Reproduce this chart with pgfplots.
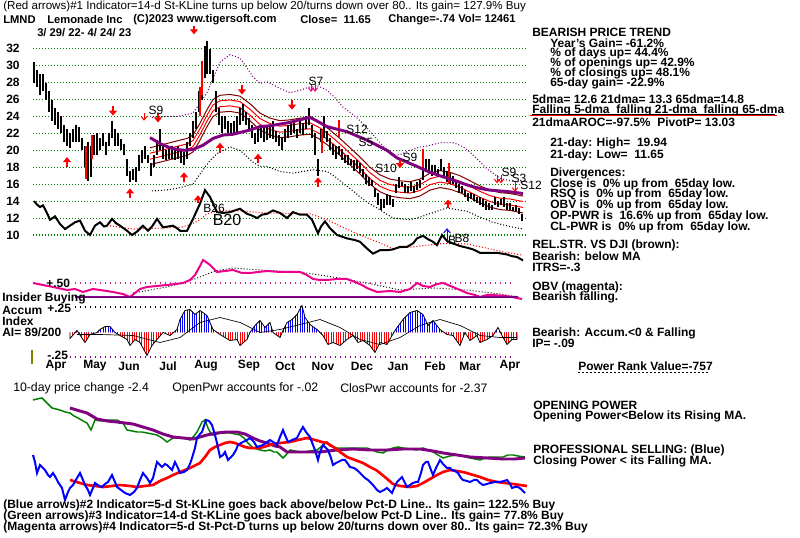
\documentclass[border=0pt]{standalone}
\usepackage{pgfplots}
\pgfplotsset{compat=1.18}
\usepackage{pgfplotstable}
\usetikzlibrary{patterns.meta,arrows.meta}
\usepackage{fontspec}
\setmainfont{Liberation Sans}
\definecolor{tsgreen}{RGB}{0,128,0}
\definecolor{maroon}{RGB}{128,0,0}
\definecolor{tspurple}{RGB}{128,0,128}
\definecolor{tsolive}{RGB}{128,128,0}
\newcommand\fb{\fontsize{9}{9}\selectfont\bfseries}
\newcommand\fr{\fontsize{8.7}{8.7}\selectfont}
\newcommand\frr{\fontsize{9.2}{9.2}\selectfont}
\newcommand\fbs{\fontsize{8.4}{8.4}\selectfont\bfseries}

\pgfplotstableread{
x lo hi
34 28.0 30.4
37 27.5 29.5
40 26.5 29.0
43 27.0 29.0
46 26.0 28.0
49 24.5 27.0
52 23.5 26.0
55 23.0 25.0
58 22.5 24.5
61 22.0 24.0
64 21.0 23.0
67 20.5 22.5
70 20.3 22.0
73 21.0 22.5
76 21.0 23.0
79 21.0 22.8
82 20.0 21.5
85 18.0 20.5
88 16.4 21.0
91 16.8 20.5
94 19.5 21.8
97 19.5 22.0
100 20.0 21.5
103 20.5 22.0
106 19.5 21.0
109 20.5 22.0
112 21.5 23.5
115 20.5 22.5
118 20.5 22.0
121 20.0 21.3
124 19.5 20.8
127 17.0 19.0
130 16.3 17.5
133 16.5 17.8
136 16.2 18.0
139 17.5 19.5
142 18.5 20.0
145 19.0 20.5
148 18.5 19.5
151 17.0 18.5
154 18.0 19.5
157 19.5 21.2
160 20.0 22.5
163 19.0 20.8
166 18.8 20.0
169 19.0 20.5
172 19.0 20.5
175 18.8 20.3
178 19.0 20.5
181 18.5 20.0
184 18.3 19.8
187 19.0 21.0
190 20.5 22.0
193 21.5 23.5
196 22.5 24.5
199 24.5 27.0
202 26.0 30.0
205 28.5 32.3
207 29.0 32.9
210 29.0 32.0
213 28.0 29.5
216 24.5 27.0
219 23.0 25.0
222 22.0 24.0
225 22.5 24.0
228 22.0 23.5
231 21.7 23.2
234 22.0 23.5
237 22.2 24.0
240 23.0 25.0
243 23.5 25.5
246 23.0 24.5
249 22.5 23.8
252 21.5 23.0
255 20.8 22.0
258 21.0 22.5
261 21.5 22.8
264 21.0 22.8
267 21.2 23.0
270 21.5 23.0
273 21.3 23.5
276 21.0 22.3
279 20.5 21.8
282 20.0 21.5
285 21.0 22.5
288 21.5 23.0
291 21.8 23.3
294 22.0 23.5
297 21.5 22.5
300 22.0 23.5
303 21.8 23.2
306 22.5 24.0
309 23.0 25.0
312 21.5 23.0
315 19.5 22.0
318 17.0 19.0
321 21.0 22.5
324 21.5 24.0
327 21.0 22.3
330 20.0 21.5
333 19.5 20.8
336 19.0 20.5
339 19.5 20.5
342 18.8 20.2
345 18.5 19.5
348 18.3 19.5
351 18.3 19.0
354 17.5 18.8
357 17.8 18.8
360 17.3 18.5
363 16.8 17.8
366 16.0 17.2
369 15.8 16.8
372 15.8 16.5
375 14.5 15.5
378 13.5 15.0
381 13.0 14.3
384 13.2 14.3
387 13.5 14.8
390 13.5 14.7
393 13.3 14.3
396 15.0 16.0
399 15.5 16.8
402 15.8 16.3
405 15.0 16.0
408 15.0 15.8
411 15.2 16.2
414 15.0 15.8
417 15.3 16.3
420 15.5 16.5
423 16.5 18.0
426 17.5 19.0
429 17.5 19.0
432 17.0 18.3
435 17.3 18.3
438 16.8 17.8
441 17.5 19.0
444 17.0 18.0
447 16.3 17.5
450 16.0 17.3
453 16.0 17.0
456 15.5 16.3
459 15.0 16.0
462 15.0 15.8
465 14.5 15.3
468 14.0 15.0
471 14.3 15.0
474 14.0 14.8
477 13.8 14.5
480 13.5 14.5
483 13.3 14.2
486 13.0 14.0
489 13.0 13.8
492 13.0 13.5
495 13.5 14.5
498 13.3 14.0
501 13.5 14.3
504 13.3 14.5
507 13.0 13.8
510 13.0 13.8
513 12.8 13.3
516 12.8 13.5
519 12.5 13.2
522 11.6 12.5
}\bars

\pgfplotstableread{
x lo hi
86 16.6 20.5
92 19.0 21.8
200 24.0 27.5
202 26.5 30.5
322 19.7 22.4
339 21.6 23.6
423 18.0 20.2
449 16.1 18.5
}\redbars

\pgfplotstableread{
x ub r1 r2 lb
150 20.3 19.65 18.95 18.3
160 20.6 19.95 19.25 18.6
170 20.9 20.25 19.55 18.9
180 21.2 20.55 19.85 19.2
187 21.4 20.75 20.05 19.4
193 21.8 21.15 20.45 19.8
200 23.2 22.55 21.85 21.2
207 24.8 24.15 23.45 22.8
213 26.0 25.35 24.65 24.0
220 26.5 25.85 25.15 24.5
230 26.6 25.95 25.25 24.6
240 26.4 25.75 25.05 24.4
250 25.5 24.85 24.15 23.5
260 24.4 23.75 23.05 22.4
270 23.8 23.15 22.45 21.8
280 23.5 22.85 22.15 21.5
290 23.6 22.95 22.25 21.6
300 23.8 23.15 22.45 21.8
310 23.9 23.25 22.55 21.9
320 23.3 22.65 21.95 21.3
330 22.4 21.75 21.05 20.4
340 21.4 20.75 20.05 19.4
350 20.3 19.65 18.95 18.3
360 19.2 18.55 17.85 17.2
370 18.0 17.35 16.65 16.0
380 17.1 16.45 15.75 15.1
390 16.6 15.95 15.25 14.6
400 16.4 15.75 15.05 14.4
410 16.3 15.65 14.95 14.3
420 16.6 15.95 15.25 14.6
430 17.3 16.65 15.95 15.3
440 17.6 16.95 16.25 15.6
450 17.4 16.75 16.05 15.4
460 17.0 16.35 15.65 15.0
470 16.4 15.75 15.05 14.4
480 15.8 15.15 14.45 13.8
490 15.3 14.65 13.95 13.3
500 15.0 14.35 13.65 13.0
510 14.9 14.25 13.55 12.9
523 14.6 13.95 13.25 12.6
}\bands

\pgfplotstableread{
x y
150 21.5
160 20.8
170 20.3
177 20.1
185 20.0
193 20.1
203 20.6
213 21.4
223 21.8
233 21.9
250 22.4
260 22.8
270 22.9
280 23.1
290 23.3
300 23.6
310 23.9
318 23.4
327 22.8
337 22.5
347 22.2
357 21.7
367 21.2
377 20.6
387 20.0
397 19.1
407 18.6
417 18.1
430 17.4
440 17.0
450 16.6
460 16.2
470 15.8
480 15.5
490 15.3
500 15.2
510 15.1
523 14.9
}\ma

\pgfplotstableread{
x y
152 23.9
165 24.0
177 24.0
193 24.4
207 26.8
220 30.4
230 31.3
240 30.9
253 28.7
260 27.9
267 28.1
280 27.3
290 26.8
300 27.1
310 27.5
318 27.6
327 27.1
335 26.2
343 25.1
352 24.3
360 23.5
368 22.5
377 21.3
385 20.3
393 19.4
400 19.5
410 20.0
420 20.4
427 20.5
440 20.9
453 20.9
460 20.6
467 20.1
477 19.0
487 17.8
500 16.7
510 16.4
523 16.2
}\upb

\pgfplotstableread{
x y
152 15.2
165 15.3
177 15.5
193 16.0
203 17.7
210 18.8
217 19.6
230 20.4
240 20.0
253 18.6
260 18.1
267 18.1
280 17.5
293 17.3
303 17.5
313 17.7
327 17.5
335 16.9
343 16.1
352 15.3
360 14.5
368 13.8
377 13.2
385 12.6
393 12.0
410 11.8
420 12.1
427 12.4
437 12.8
447 13.2
457 13.0
467 12.8
480 12.1
493 11.5
510 11.0
523 10.7
}\lowb

\pgfplotstableread{
x y
34 14.0
37 13.6
40 13.3
43 13.5
47 12.6
50 11.8
55 12.2
60 11.3
65 10.7
70 11.1
75 11.5
80 11.7
85 10.5
90 10.0
95 11.1
100 11.5
104 11.0
107 11.1
112 11.9
116 11.4
120 11.1
127 10.5
132 10.0
137 10.4
143 11.1
148 10.5
152 11.0
157 11.9
160 11.4
163 10.9
168 11.0
173 11.1
177 10.8
180 10.5
187 10.5
193 11.9
200 13.7
205 15.3
210 14.5
217 12.7
223 12.6
230 12.7
235 12.9
240 13.1
247 12.5
252 12.3
257 12.0
262 12.4
267 12.5
273 12.9
280 12.6
287 12.0
293 12.7
300 12.4
307 12.4
312 11.8
318 10.2
321 11.0
325 11.6
330 10.8
337 10.0
347 9.6
355 9.4
360 9.2
367 8.4
373 7.8
380 8.2
387 8.2
393 8.3
400 8.6
407 8.6
413 9.0
417 9.6
423 9.9
428 9.5
433 9.2
437 8.8
442 10.0
447 9.3
453 9.0
460 8.7
467 8.5
473 8.3
480 7.9
487 7.9
497 7.9
507 7.7
512 7.5
517 7.4
523 7.0
}\rs

\pgfplotstableread{
x y
110 11.1
133 10.7
157 10.8
180 10.9
190 11.2
200 11.8
207 12.5
220 12.9
233 12.9
267 12.6
310 12.5
327 11.8
343 10.9
360 10.0
377 9.2
393 8.4
413 8.6
443 9.0
467 8.95
500 8.1
523 7.6
}\rsma

\pgfplotstableread{
x y u v
67 18.0 0 1.2
130 14.4 0 1.1
184 16.3 0 1.1
198 13.8 0 0.9
220 19.7 0 1.2
258 18.5 0 1.1
318 15.7 0 1.1
448 13.2 0 1.0
}\uparrows

\pgfplotstableread{
x y u v
194 34.7 0 -1.0
113 25.2 0 -1.1
158 24.4 0 -1.1
242 27.7 0 -1.1
292 25.9 0 -1.1
400 18.9 0 -1.0
}\downarrows

\pgfplotstableread{
x y u v
144 24.4 0 -0.9
497 17.1 0 -1.0
501 17.1 0 -1.0
515 16.2 0 -1.1
}\thinarrows

\pgfplotstableread{
x y
33 283
43 285
53 287
67 290
75 289
83 292
93 289
100 290
113 292
123 294
130 297
140 289
147 287
157 286
167 285
175 284
183 283
190 280
195 275
200 266
203 260
206 262
210 265
217 272
225 271
233 270
242 273
250 273
258 272
267 271
280 272
290 272
300 272
307 275
313 279
320 280
327 280
337 279
347 279
355 282
362 285
367 288
377 292
390 291
400 292
410 289
417 283
423 286
430 287
437 284
443 283
448 285
453 287
460 290
467 293
475 295
480 297
487 295
493 295
505 296
512 297
517 298
522 299
}\obv

\pgfplotstableread{
x y
133 293
150 290
167 287
183 283
200 277
215 271
233 268
260 270
300 272
333 277
367 283
400 290
433 288
467 290
500 294
520 297
}\obvma

\pgfplotstableread{
x y
70 0
70 -0.06
77 0.02
83 -0.07
85 -0.10
90 -0.02
97 0
100 0.03
105 0.06
110 0.06
115 0
120 -0.03
127 -0.07
130 -0.13
135 -0.07
140 -0.10
147 -0.23
152 -0.13
157 -0.07
163 0
170 -0.03
177 0.03
180 0.13
185 0.22
190 0.23
195 0.18
200 0.22
207 0.17
213 0.03
220 -0.02
230 -0.08
237 -0.07
240 -0.13
247 -0.07
250 0
255 0.07
260 0.12
265 0.05
270 0.10
273 0
280 -0.05
283 0.02
287 0.10
292 0.13
297 0.18
302 0.27
305 0.15
310 0.08
317 0.03
323 -0.03
328 -0.12
333 -0.10
340 -0.13
347 -0.07
353 -0.03
358 -0.10
363 -0.08
370 -0.13
375 -0.20
380 -0.10
387 -0.12
392 -0.03
397 0.05
403 0.13
410 0.20
417 0.22
423 0.18
428 0.07
433 0.12
440 0.03
447 -0.02
453 -0.03
460 -0.13
465 0
470 -0.08
477 -0.03
480 -0.10
487 -0.07
493 -0.03
498 0.05
502 -0.03
507 -0.12
512 -0.07
517 -0.07
517 0
}\ai

\pgfplotstableread{
x y
77 -0.02
100 -0.02
133 -0.03
160 -0.10
180 -0.05
200 0.10
220 0.15
240 0.10
260 0
280 0.03
300 0.08
320 0.13
340 0.05
360 -0.07
380 -0.12
400 -0.05
420 0.07
440 0.13
460 0.07
480 -0.03
500 -0.05
517 -0.05
}\aima

\pgfplotstableread{
x y
33 400
37 399
42 398
47 403
52 408
56 409
60 410
65 412
70 413
74 416
78 418
83 421
87 423
91 430
95 420
101 421
107 420
112 420
117 420
123 423
127 430
132 431
137 432
142 432
147 433
152 434
157 435
162 438
167 442
173 438
178 438
183 438
187 439
190 440
194 436
197 432
200 426
202 422
205 420
208 428
210 432
213 435
217 434
220 433
225 433
230 433
235 434
240 435
244 438
247 442
250 445
253 448
257 449
260 450
265 451
270 450
274 452
277 452
280 455
283 458
286 455
290 450
295 451
300 452
303 452
310 451
317 450
322 446
327 442
330 446
337 448
345 448
353 448
360 448
367 448
372 450
377 452
383 453
388 450
393 448
398 447
403 448
410 449
417 450
423 448
428 450
433 452
438 455
443 458
450 456
457 455
463 456
470 458
475 459
480 460
485 458
490 457
497 457
503 457
508 455
513 455
518 456
525 457
}\opw

\pgfplotstableread{
x y
70 408
80 411
87 413
97 419
107 421
117 422
125 423
133 424
143 427
153 430
163 434
173 437
183 438
193 439
200 437
207 435
217 433
227 432
237 432
245 434
253 438
260 441
267 443
275 446
280 447
287 452
300 452
320 452
337 450
353 449
370 450
387 450
403 449
420 449
433 451
443 453
457 455
470 457
487 458
503 459
515 459
525 458
}\opwma

\pgfplotstableread{
x y
33 455
35 462
37 473
40 465
43 468
45 470
48 475
50 477
53 473
56 478
58 482
62 488
65 500
68 492
70 488
73 485
77 478
80 473
83 480
85 485
88 490
90 495
93 488
95 483
99 486
102 487
105 484
108 482
112 475
115 482
117 487
121 490
125 493
130 495
134 492
137 488
140 480
143 473
147 478
150 483
153 478
157 462
160 465
162 467
165 464
167 465
170 468
172 470
175 462
178 468
180 473
184 472
187 470
190 464
192 458
195 448
197 438
200 434
202 432
204 426
206 420
209 421
212 425
215 435
217 443
220 457
223 455
225 452
228 460
231 457
233 455
236 450
238 445
241 443
243 442
247 440
250 438
254 442
257 447
260 446
263 445
267 442
270 440
273 442
277 445
280 437
283 430
285 435
288 442
292 440
297 438
300 432
303 427
306 432
310 437
313 445
315 450
318 460
320 452
323 445
326 448
328 450
331 458
333 465
336 463
338 462
342 460
345 460
348 464
350 467
354 468
357 470
360 473
362 475
365 478
368 480
371 483
373 485
377 490
380 492
384 490
387 488
390 491
392 493
395 486
397 482
400 479
402 477
405 483
407 487
410 485
413 483
416 482
418 482
421 473
423 465
426 462
428 462
431 470
433 475
436 468
440 460
443 464
447 468
450 468
452 470
455 471
458 473
461 478
463 480
467 481
470 482
474 480
477 480
480 483
483 485
487 484
490 483
495 482
500 482
504 481
507 480
510 484
512 488
515 487
518 487
521 489
525 493
}\cpw

\pgfplotstableread{
x y
70 480
80 483
87 485
95 486
103 487
112 486
120 485
130 486
137 487
145 486
153 485
160 481
167 478
173 475
180 472
190 468
200 463
205 457
210 450
215 447
220 445
225 443
230 442
235 443
240 445
245 447
250 448
255 448
260 448
267 446
273 444
280 443
290 442
298 440
307 438
315 440
322 442
327 443
335 448
340 452
347 457
355 460
363 463
370 467
376 470
380 473
386 478
393 484
400 486
410 487
417 486
423 483
430 479
437 475
443 472
450 470
457 471
463 472
470 474
480 477
488 480
497 482
505 483
513 484
520 485
527 486
}\cpwma

\pgfplotsset{panel/.style={scale only axis, xmin=33, xmax=528, width=371.25pt,
  anchor=south west, axis line style={draw=none}, xtick=\empty, ytick=\empty,
  major tick length=0pt, clip=false}}

\begin{document}
\begin{tikzpicture}[x=0.75pt,y=0.75pt]
\fill[white] (0,0) rectangle (800,538);
\useasboundingbox (0,0) rectangle (800,538);

% ---------------- price panel (px 48.7..235 from top) ----------------
\begin{axis}[panel, at={(24.75pt,227.25pt)}, height=139.7pt, ymin=10, ymax=32,
  ytick={10,12,14,16,18,20,22,24,26,28,30,32},
  yticklabels={10,12,14,16,18,20,22,24,26,28,30,32},
  yticklabel style={font=\fb, xshift=-6.5pt},
  ymajorgrids, grid style={tsgreen, line width=0.8pt, dash pattern=on 0.75pt off 1.5pt}]
\addplot[maroon, line width=0.75pt] table[x=x,y=ub] {\bands};
\addplot[maroon, line width=0.75pt] table[x=x,y=lb] {\bands};
\addplot[red, line width=0.75pt] table[x=x,y=r1] {\bands};
\addplot[red, line width=0.75pt] table[x=x,y=r2] {\bands};
\addplot[tspurple, line width=0.8pt, dash pattern=on 0.75pt off 1.5pt] table {\upb};
\addplot[black, line width=0.8pt, dash pattern=on 0.75pt off 1.5pt] table {\lowb};
\addplot[draw=none, mark=none, error bars/.cd, y dir=minus, y explicit, error mark=none,
  error bar style={draw=black, line width=0.95pt}]
  table[x=x, y=hi, y error minus expr=\thisrow{hi}-\thisrow{lo}] {\bars};
\addplot[draw=none, mark=none, error bars/.cd, y dir=minus, y explicit, error mark=none,
  error bar style={draw=red, line width=0.95pt}]
  table[x=x, y=hi, y error minus expr=\thisrow{hi}-\thisrow{lo}] {\redbars};
\addplot[tspurple, line width=2.2pt] table {\ma};
\addplot[red, line width=0.8pt, dash pattern=on 0.75pt off 1.5pt] table {\rsma};
\addplot[black, line width=1.5pt] table {\rs};
\addplot[red, line width=2.2pt, -{Triangle[width=6pt,length=3.8pt]},
  quiver={u=\thisrow{u}, v=\thisrow{v}}] table {\uparrows};
\addplot[red, line width=2.2pt, -{Triangle[width=6pt,length=3.8pt]},
  quiver={u=\thisrow{u}, v=\thisrow{v}}] table {\downarrows};
\addplot[red, line width=0.75pt, -{Straight Barb[width=4pt,length=2.5pt]},
  quiver={u=\thisrow{u}, v=\thisrow{v}}] table {\thinarrows};
\addplot[magenta, line width=0.75pt, -{Straight Barb[width=4pt,length=2.5pt]},
  quiver={u=0, v=-0.9}] coordinates {(311,27.8) (315,27.8)};
\addplot[blue, line width=0.75pt, -{Straight Barb[width=5pt,length=3pt]},
  quiver={u=0, v=1.8}] coordinates {(447,9.0)};
\end{axis}

% ---------------- OBV panel (px 255..300) ----------------
\begin{axis}[panel, at={(24.75pt,178.5pt)}, height=33.75pt, ymin=255, ymax=300, y dir=reverse]
\addplot[black, line width=0.7pt, dash pattern=on 0.75pt off 1.5pt] table {\obvma};
\addplot[magenta, line width=1.5pt] table {\obv};
\end{axis}

% ---------------- Accumulation index (0 at px 332.5) ----------------
\begin{axis}[panel, at={(24.75pt,154.125pt)}, height=22.5pt, ymin=0, ymax=0.3, clip=true]
\addplot[draw=none, pattern={Lines[angle=90, distance=1.8pt, line width=0.7pt]}, pattern color=blue] table {\ai} \closedcycle;
\end{axis}
\begin{axis}[panel, at={(24.75pt,131.625pt)}, height=22.5pt, ymin=-0.3, ymax=0, clip=true]
\addplot[draw=none, pattern={Lines[angle=90, distance=1.8pt, line width=0.7pt]}, pattern color=red] table {\ai} \closedcycle;
\end{axis}
\begin{axis}[panel, at={(24.75pt,131.625pt)}, height=45pt, ymin=-0.3, ymax=0.3]
\addplot[black, line width=0.6pt] table {\ai};
\addplot[black, line width=0.5pt] table {\aima};
\end{axis}

% ---------------- power panel (px 395..505) ----------------
\begin{axis}[panel, at={(24.75pt,24.75pt)}, height=82.5pt, ymin=395, ymax=505, y dir=reverse]
\addplot[tsgreen, line width=1.1pt] table {\opw};
\addplot[tspurple, line width=2.2pt] table {\opwma};
\addplot[red, line width=2pt] table {\cpwma};
\addplot[blue, line width=1.5pt] table {\cpw};
\end{axis}

% ---------------- texts (pixel coordinates from top) ----------------
\begin{scope}[y=-0.75pt, yshift=403.5pt]
\draw[magenta!70!tspurple, line width=0.8pt, dash pattern=on 0.75pt off 3pt] (75,283) -- (515,283);
\draw[tspurple, line width=1pt] (75,297) -- (517,297);
\draw[black, line width=0.8pt, dash pattern=on 0.75pt off 3pt] (75,307) -- (515,307);
\draw[tspurple, line width=0.8pt, dash pattern=on 0.75pt off 3pt] (70,357) -- (515,357);
\draw[tsolive, line width=1pt] (32,350) -- (32,364);

\node[anchor=west, inner sep=0, font=\fr] at (3,7) {(Red arrows)\#1 Indicator=14-d St-KLine turns up below 20/turns down over 80.. Its gain= 127.9\% Buy};
\node[anchor=west, inner sep=0, font=\fbs] at (3,20) {LMND};
\node[anchor=west, inner sep=0, font=\fbs] at (47,20) {Lemonade Inc};
\node[anchor=west, inner sep=0, font=\fbs] at (133,20) {(C)2023 www.tigersoft.com};
\node[anchor=west, inner sep=0, font=\fbs] at (300,20) {Close=\ \ 11.65};
\node[anchor=west, inner sep=0, font=\fbs] at (388,20) {Change=-.74 Vol= 12461};
\node[anchor=west, inner sep=0, font=\fbs] at (37,33) {3/ 29/ 22- 4/ 24/ 23};

\node[font=\fontsize{9}{9}\selectfont] at (156,110) {S9};
\node[font=\fontsize{9}{9}\selectfont] at (316,81) {S7};
\node[font=\fontsize{9}{9}\selectfont] at (357,129) {S12};
\node[font=\fontsize{9}{9}\selectfont] at (366,142) {S5};
\node[font=\fontsize{9}{9}\selectfont] at (386,168) {S10};
\node[font=\fontsize{9}{9}\selectfont] at (410,157) {S9};
\node[font=\fontsize{9}{9}\selectfont] at (509,172) {S9};
\node[font=\fontsize{9}{9}\selectfont] at (519,178) {S3};
\node[font=\fontsize{9}{9}\selectfont] at (531,185) {S12};
\node[font=\fontsize{9}{9}\selectfont] at (214,208) {B26};
\node[font=\fontsize{12}{12}\selectfont] at (227,220) {B20};
\node[font=\fontsize{9}{9}\selectfont] at (452,240) {B};
\node[font=\fontsize{9}{9}\selectfont] at (462,238) {B8};

\node[anchor=west, inner sep=0, font=\fb] at (532,32) {BEARISH PRICE TREND};
\node[anchor=west, inner sep=0, font=\fb] at (550,43) {Year's Gain= -61.2\%};
\node[anchor=west, inner sep=0, font=\fb] at (550,53) {\% of days up= 44.4\%};
\node[anchor=west, inner sep=0, font=\fb] at (550,63) {\% of openings up= 42.9\%};
\node[anchor=west, inner sep=0, font=\fb] at (550,73) {\% of closings up= 48.1\%};
\node[anchor=west, inner sep=0, font=\fb] at (550,83) {65-day gain= -22.9\%};
\node[anchor=west, inner sep=0, font=\fb] at (532,99) {5dma= 12.6 21dma= 13.3 65dma=14.8};
\node[anchor=west, inner sep=0, font=\fb] at (532,110) {Falling 5-dma\ \ falling 21-dma\ \ falling 65-dma};
\draw[black, line width=0.75pt] (532,114.5) -- (775,114.5);
\draw[red, line width=0.75pt] (530,116) -- (777,116);
\node[anchor=west, inner sep=0, font=\fb] at (532,122) {21dmaAROC=-97.5\%\ \ PivotP= 13.03};
\node[anchor=west, inner sep=0, font=\fb] at (550,143) {21-day: High=\ \ 19.94};
\node[anchor=west, inner sep=0, font=\fb] at (550,155) {21-day: Low=\ \ 11.65};
\node[anchor=west, inner sep=0, font=\fb] at (550,173) {Divergences:};
\node[anchor=west, inner sep=0, font=\fb] at (550,184) {Close is\ \ 0\% up from\ \ 65day low.};
\node[anchor=west, inner sep=0, font=\fb] at (550,194) {RSQ is\ \ 0\% up from\ \ 65day low.};
\node[anchor=west, inner sep=0, font=\fb] at (550,205) {OBV is\ \ 0\% up from\ \ 65day low.};
\node[anchor=west, inner sep=0, font=\fb] at (550,216) {OP-PWR is\ \ 16.6\% up from\ \ 65day low.};
\node[anchor=west, inner sep=0, font=\fb] at (550,227) {CL-PWR is\ \ 0\% up from\ \ 65day low.};
\node[anchor=west, inner sep=0, font=\fb] at (532,245) {REL.STR. VS DJI (brown):};
\node[anchor=west, inner sep=0, font=\fb] at (532,256) {Bearish: below MA};
\node[anchor=west, inner sep=0, font=\fb] at (532,267) {ITRS=-.3};
\node[anchor=west, inner sep=0, font=\fb] at (532,287) {OBV (magenta):};
\node[anchor=west, inner sep=0, font=\fb] at (532,297) {Bearish falling.};
\node[anchor=west, inner sep=0, font=\fb] at (532,333) {Bearish: Accum.<0 \& Falling};
\node[anchor=west, inner sep=0, font=\fb] at (532,343) {IP= -.09};
\node[anchor=west, inner sep=0, font=\fb] at (578,366) {Power Rank Value=-757};
\draw[black, line width=0.6pt, dash pattern=on 1.5pt off 1.5pt] (578,372) -- (708,372);

\node[anchor=west, inner sep=0, font=\fb] at (46,283) {+.50};
\node[anchor=west, inner sep=0, font=\fb] at (2,298) {Insider Buying};
\node[anchor=west, inner sep=0, font=\fb] at (2,310) {Accum};
\node[anchor=west, inner sep=0, font=\fb] at (47,308) {+.25};
\node[anchor=west, inner sep=0, font=\fb] at (2,321) {Index};
\node[anchor=west, inner sep=0, font=\fb] at (2,332) {AI= 89/200};
\node[anchor=west, inner sep=0, font=\fb] at (47,355) {-.25};
\foreach \m/\p in {Apr/56,May/95,Jun/129,Jul/168,Aug/206,Sep/249,Oct/285,Nov/323,Dec/362,Jan/398,Feb/435,Mar/470,Apr/510}
  \node[font=\fb] at (\p,366) {\m};

\node[anchor=west, inner sep=0, font=\frr] at (13,388) {10-day price change -2.4};
\node[anchor=west, inner sep=0, font=\frr] at (172,388) {OpenPwr accounts for -.02};
\node[anchor=west, inner sep=0, font=\frr] at (340,388) {ClosPwr accounts for -2.37};
\node[anchor=west, inner sep=0, font=\fb] at (533,405) {OPENING POWER};
\node[anchor=west, inner sep=0, font=\fb] at (533,416) {Opening Power<Below its Rising MA.};
\node[anchor=west, inner sep=0, font=\fb] at (533,450) {PROFESSIONAL SELLING: (Blue)};
\node[anchor=west, inner sep=0, font=\fb] at (533,461) {Closing Power < its Falling MA.};
\node[anchor=west, inner sep=0, font=\fb] at (3,505) {(Blue arrows)\#2 Indicator=5-d St-KLine goes back above/below Pct-D Line.. Its gain= 122.5\% Buy};
\node[anchor=west, inner sep=0, font=\fb] at (3,516) {(Green arrows)\#3 Indicator=14-d St-KLine goes back above/below Pct-D Line.. Its gain= 77.8\% Buy};
\node[anchor=west, inner sep=0, font=\fb] at (3,527) {(Magenta arrows)\#4 Indicator=5-d St-Pct-D turns up below 20/turns down over 80.. Its gain= 72.3\% Buy};
\end{scope}
\end{tikzpicture}
\end{document}
